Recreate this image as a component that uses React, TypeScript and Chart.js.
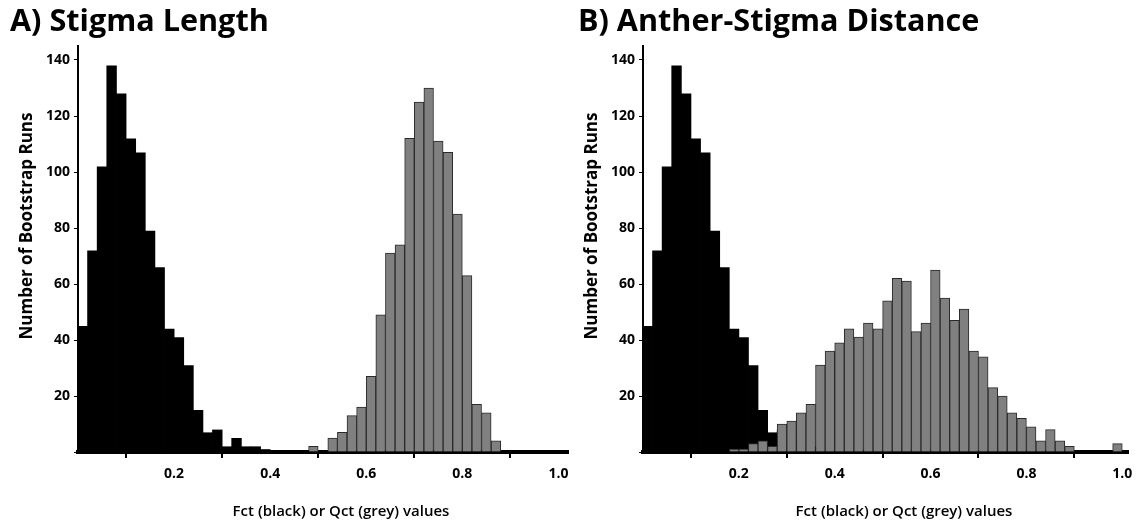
import React, { useEffect, useRef } from 'react';
import { Chart, registerables } from 'chart.js';

Chart.register(...registerables);

// Histogram bin centres (bin width 0.02)
const BIN_CENTERS = [
  0.01, 0.03, 0.05, 0.07, 0.09, 0.11, 0.13, 0.15, 0.17, 0.19,
  0.21, 0.23, 0.25, 0.27, 0.29, 0.31, 0.33, 0.35, 0.37, 0.39,
  0.41, 0.43, 0.45, 0.47, 0.49, 0.51, 0.53, 0.55, 0.57, 0.59,
  0.61, 0.63, 0.65, 0.67, 0.69, 0.71, 0.73, 0.75, 0.77, 0.79,
  0.81, 0.83, 0.85, 0.87, 0.89, 0.91, 0.93, 0.95, 0.97, 0.99,
];

// Fct (black) – same in both panels
const FCT_COUNTS = [
  45, 72, 102, 138, 128, 112, 107, 79, 66, 44,
  41, 31, 15, 7, 8, 2, 5, 2, 2, 1,
  0, 0, 0, 0, 0, 0, 0, 0, 0, 0,
  0, 0, 0, 0, 0, 0, 0, 0, 0, 0,
  0, 0, 0, 0, 0, 0, 0, 0, 0, 0,
];

// Qct (grey) – A) Stigma Length
const QCT_STIGMA_LENGTH = [
  0, 0, 0, 0, 0, 0, 0, 0, 0, 0,
  0, 0, 0, 0, 0, 0, 0, 0, 0, 0,
  0, 0, 0, 0, 2, 0, 5, 7, 13, 16,
  27, 49, 71, 74, 112, 125, 130, 111, 107, 85,
  63, 17, 14, 4, 0, 0, 0, 0, 0, 0,
];

// Qct (grey) – B) Anther-Stigma Distance
const QCT_ANTHER_STIGMA = [
  0, 0, 0, 0, 0, 0, 0, 0, 0, 1,
  1, 3, 4, 2, 10, 11, 14, 17, 31, 36,
  39, 44, 41, 46, 44, 54, 62, 61, 43, 46,
  65, 55, 47, 51, 36, 34, 23, 20, 14, 12,
  9, 4, 8, 4, 2, 0, 0, 0, 0, 3,
];

const X_TICKS = [0, 0.2, 0.4, 0.6, 0.8, 1.0];
const Y_TICKS = [0, 20, 40, 60, 80, 100, 120, 140];

const PANEL_TITLES = ['A) Stigma Length', 'B) Anther-Stigma Distance'];
const Y_TITLE = 'Number of Bootstrap Runs';
const X_TITLE = 'Fct (black) or Qct (grey) values';

const FONT = "'Open Sans', sans-serif";

function makeConfig(grey: number[], xMax: number, padRight: number): any {
  return {
    type: 'bar',
    data: {
      datasets: [
        {
          label: 'Qct',
          data: BIN_CENTERS.map((x, i) => ({ x, y: grey[i] })),
          backgroundColor: '#808080',
          borderColor: '#2a2a2a',
          borderWidth: 1,
          grouped: false,
          barPercentage: 1,
          categoryPercentage: 1,
          order: 0,
        },
        {
          label: 'Fct',
          data: BIN_CENTERS.map((x, i) => ({ x, y: FCT_COUNTS[i] })),
          backgroundColor: '#000000',
          borderWidth: 0,
          grouped: false,
          barPercentage: 1.08,
          categoryPercentage: 1,
          order: 1,
        },
      ],
    },
    options: {
      animation: false,
      responsive: false,
      events: [],
      layout: { padding: { top: 46, right: padRight, left: 0, bottom: 0 } },
      plugins: {
        legend: { display: false },
        tooltip: { enabled: false },
        title: { display: false },
      },
      scales: {
        x: {
          type: 'linear',
          min: 0,
          max: xMax,
          offset: false,
          z: 1,
          grid: { drawOnChartArea: false, drawTicks: true, tickLength: 6, color: '#000', lineWidth: 2 },
          border: { display: true, color: '#000', width: 4 },
          ticks: {
            font: { family: FONT, size: 14, weight: 'bold' },
            color: '#000',
            padding: 8,
            maxRotation: 0,
            autoSkip: false,
            callback: (v: number) => (v === 0 ? '' : Number(v).toFixed(1)),
          },
          afterBuildTicks: (s: any) => {
            s.ticks = X_TICKS.map((value) => ({ value }));
          },
          afterFit: (s: any) => {
            s.height = 73;
            s.paddingLeft = 0;
            s.paddingRight = 0;
          },
        },
        y: {
          type: 'linear',
          min: 0,
          max: 145,
          z: 1,
          grid: { drawOnChartArea: false, drawTicks: true, tickLength: 4, color: '#000', lineWidth: 1 },
          border: { display: true, color: '#000', width: 2 },
          ticks: {
            font: { family: FONT, size: 14, weight: 'bold' },
            color: '#000',
            padding: 4,
            callback: (v: number) => (v === 0 ? '' : String(v)),
          },
          afterBuildTicks: (s: any) => {
            s.ticks = Y_TICKS.map((value) => ({ value }));
          },
          afterFit: (s: any) => {
            s.width = 78;
            s.paddingTop = 0;
            s.paddingBottom = 0;
          },
        },
      },
    },
  };
}

function Panel(props: { grey: number[]; left: number; width: number; xMax: number; padRight: number }) {
  const ref = useRef<HTMLCanvasElement>(null);
  useEffect(() => {
    const chart = new Chart(ref.current as HTMLCanvasElement, makeConfig(props.grey, props.xMax, props.padRight));
    return () => chart.destroy();
  }, []);
  return (
    <canvas
      ref={ref}
      width={props.width}
      height={525}
      style={{ position: 'absolute', left: props.left, top: 0, width: props.width, height: 525 }}
    />
  );
}

const textBase: React.CSSProperties = {
  position: 'absolute',
  fontFamily: FONT,
  color: '#000',
  whiteSpace: 'nowrap',
};

function PanelText(props: { title: string; titleLeft: number; xTitleCenter: number; yTitleCenter: number }) {
  return (
    <>
      <div style={{ ...textBase, left: props.titleLeft, top: 4, fontSize: 30.6, fontWeight: 700, lineHeight: '31px' }}>
        {props.title}
      </div>
      <div
        style={{
          ...textBase,
          left: props.yTitleCenter - 150,
          top: 226 - 10,
          width: 300,
          height: 20,
          lineHeight: '20px',
          textAlign: 'center',
          fontSize: 17,
          fontWeight: 700,
          transform: 'rotate(-90deg)',
        }}
      >
        {Y_TITLE}
      </div>
      <div
        style={{
          ...textBase,
          left: props.xTitleCenter - 150,
          top: 500,
          width: 300,
          lineHeight: '20px',
          textAlign: 'center',
          fontSize: 15,
          fontWeight: 600,
        }}
      >
        {X_TITLE}
      </div>
    </>
  );
}

export default function App() {
  return (
    <div style={{ position: 'absolute', left: 0, top: 0, width: 1144, height: 525, background: '#fff', overflow: 'hidden' }}>
      <Panel grey={QCT_STIGMA_LENGTH} left={0} width={572} xMax={1.02} padRight={4} />
      <Panel grey={QCT_ANTHER_STIGMA} left={565} width={579} xMax={1.012} padRight={16} />
      <PanelText title={PANEL_TITLES[0]} titleLeft={10} xTitleCenter={341} yTitleCenter={26} />
      <PanelText title={PANEL_TITLES[1]} titleLeft={578} xTitleCenter={904} yTitleCenter={591} />
    </div>
  );
}
